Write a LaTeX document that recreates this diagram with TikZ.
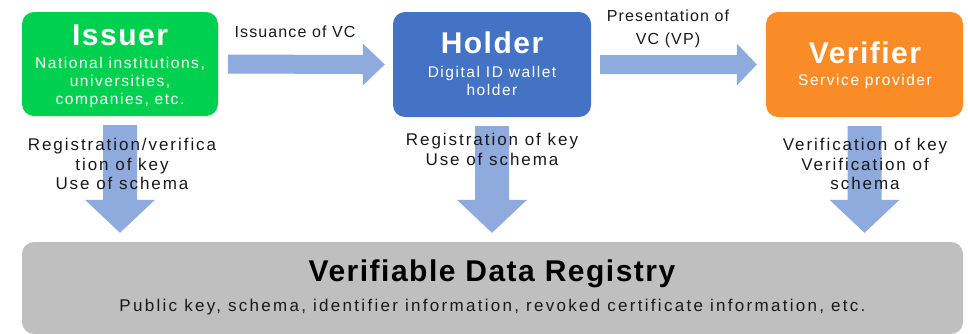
\documentclass[tikz,border=0pt]{standalone}
\usepackage{fontspec}
\setmainfont{Liberation Sans}
\usetikzlibrary{calc}
\definecolor{issuergreen}{RGB}{0,208,80}
\definecolor{holderblue}{RGB}{68,114,196}
\definecolor{verifierorange}{RGB}{250,140,40}
\definecolor{registrygray}{RGB}{191,191,191}
\definecolor{flowblue}{RGB}{143,170,220}
\definecolor{labeltext}{RGB}{25,25,25}
\tikzset{
  rolebox/.style={rounded corners=12pt, inner sep=0pt, draw=none},
  roletitle/.style={text=white, inner sep=0pt, font=\fontsize{30}{32}\selectfont\bfseries\addfontfeature{LetterSpace=5}},
  rolesub/.style={text=white, inner sep=0pt, align=center, font=\fontsize{15.5}{18}\selectfont\addfontfeature{LetterSpace=10}},
  flowlabel/.style={text=labeltext, inner sep=0pt, align=center, font=\fontsize{17}{19.5}\selectfont\addfontfeature{LetterSpace=11.5}},
  toplabel/.style={text=labeltext, inner sep=0pt, align=center, font=\fontsize{16}{23}\selectfont\addfontfeature{LetterSpace=7}},
  flow/.style={fill=flowblue, draw=none},
  regtitle/.style={text=black, inner sep=0pt, font=\fontsize{30}{32}\selectfont\bfseries\addfontfeature{LetterSpace=5}},
  regsub/.style={text=labeltext, inner sep=0pt, font=\fontsize{17}{19}\selectfont\addfontfeature{LetterSpace=13.5}},
}
\begin{document}
\begin{tikzpicture}[x=1pt,y=-1pt]
\useasboundingbox (0,0) rectangle (968,333);
% boxes
\node[rolebox, fill=issuergreen, minimum width=196pt, minimum height=104pt] (issuer) at (120,64) {};
\node[rolebox, fill=holderblue, minimum width=198pt, minimum height=105pt] (holder) at (492,64.5) {};
\node[rolebox, fill=verifierorange, minimum width=197pt, minimum height=105pt] (verifier) at (864.5,64.5) {};
\node[rolebox, fill=registrygray, minimum width=941pt, minimum height=92pt] (registry) at (492.5,288) {};
% box texts
\node[roletitle] (issuerT) at (120,35) {Issuer};
\node[rolesub] (issuerS) at (120,82) {National institutions,\\universities,\\companies, etc.};
\node[roletitle] (holderT) at (492,43) {Holder};
\node[rolesub] (holderS) at (492,80.5) {Digital ID wallet\\holder};
\node[roletitle] (verifierT) at (865,53) {Verifier};
\node[rolesub] (verifierS) at (865,81) {Service provider};
\node[regtitle] (regT) at (492,274) {Verifiable Data Registry};
\node[regsub] (regS) at (492.5,307) {Public key, schema, identifier information, revoked certificate information, etc.};
% horizontal arrows
\fill[flow] ($(issuer.east)+(10,-9.5)$) -- ($(holder.west)+(-30,-9.5)$) -- ($(holder.west)+(-30,-21)$)
  -- ($(holder.west)+(-8,0)$) -- ($(holder.west)+(-30,21)$) -- ($(holder.west)+(-30,9.5)$)
  -- ($(issuer.east)+(10,9.5)$) -- cycle;
\fill[flow] ($(holder.east)+(9,-9.5)$) -- ($(verifier.west)+(-29,-9.5)$) -- ($(verifier.west)+(-29,-21)$)
  -- ($(verifier.west)+(-9,0)$) -- ($(verifier.west)+(-29,21)$) -- ($(verifier.west)+(-29,9.5)$)
  -- ($(holder.east)+(9,9.5)$) -- cycle;
% down arrows
\foreach \src in {issuer,holder,verifier}{
  \coordinate (\src top) at ($(\src.south)+(0,9)$);
  \coordinate (\src tip) at ($(\src.south |- registry.north)+(0,-9)$);
  \fill[flow] ($(\src top)+(-17,0)$) -- ($(\src tip)+(-17,-33)$) -- ($(\src tip)+(-35,-33)$)
    -- (\src tip) -- ($(\src tip)+(35,-33)$) -- ($(\src tip)+(17,-33)$) -- ($(\src top)+(17,0)$) -- cycle;
}
% labels
\node[toplabel] (lblIssue) at (295,32) {Issuance of VC};
\node[toplabel] (lblPresent) at (668,28.5) {Presentation of\\VC (VP)};
\node[flowlabel] (lblIssuerReg) at (122,164) {Registration/verifica\\tion of key\\Use of schema};
\node[flowlabel] (lblHolderReg) at (492,149.5) {Registration of key\\Use of schema};
\node[flowlabel] (lblVerifierReg) at (865,164) {Verification of key\\Verification of\\schema};
\end{tikzpicture}
\end{document}
